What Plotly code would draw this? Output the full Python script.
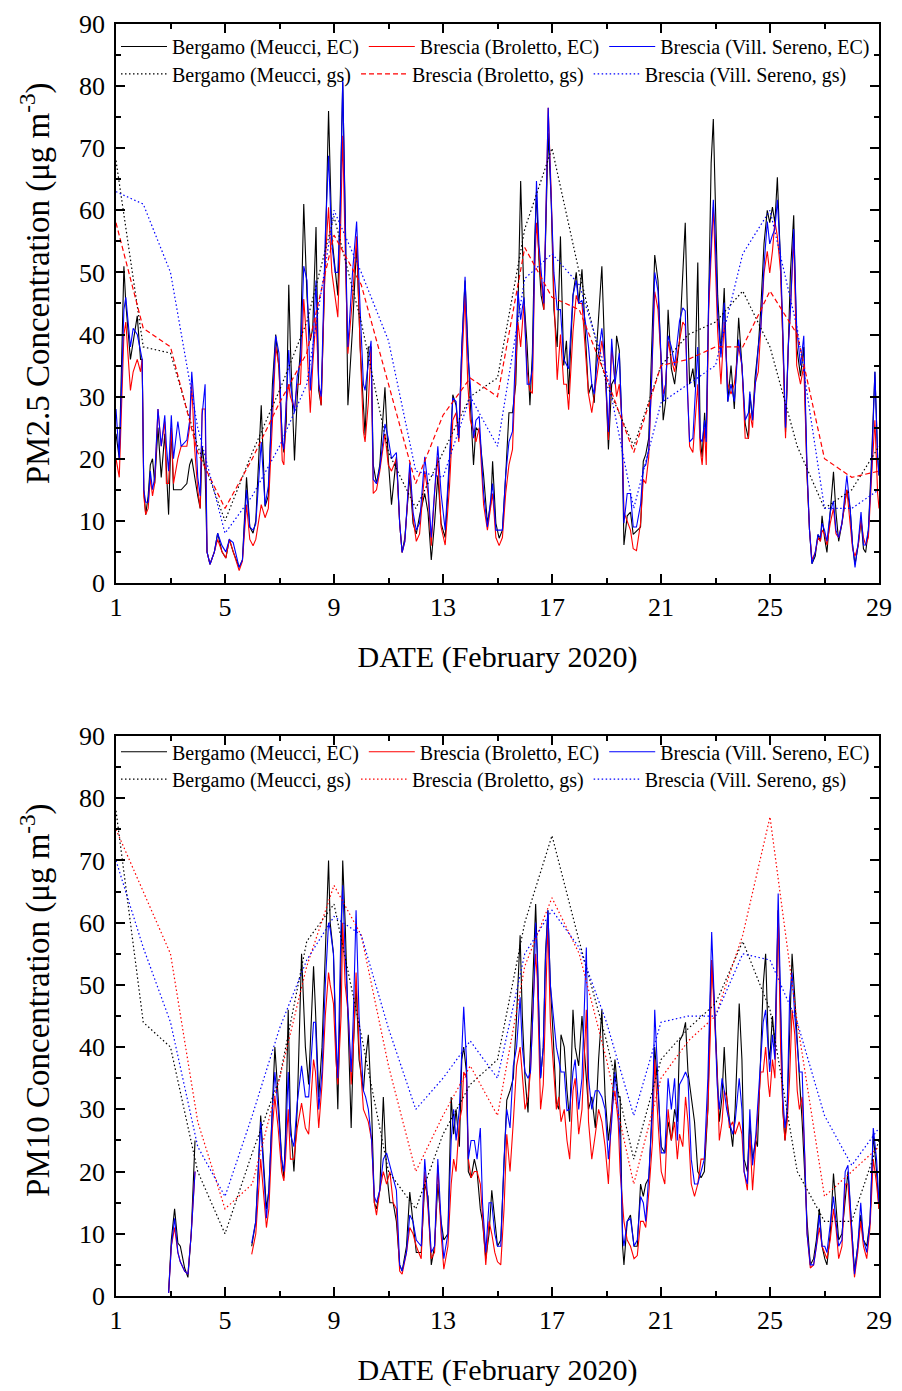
import plotly.graph_objects as go

# ---------------- PM2.5 (top) hourly-ish EC series ----------------
T25 = [1.00,1.12,1.29,1.36,1.53,1.63,1.78,1.90,1.96,2.02,2.09,2.18,2.26,2.34,2.42,2.54,2.66,2.79,2.85,2.93,
       3.03,3.11,3.27,3.39,3.60,3.70,3.78,3.88,4.00,4.09,4.16,4.27,4.34,4.45,4.61,4.73,4.89,5.03,5.16,5.30,
       5.52,5.64,5.79,5.91,6.03,6.13,6.33,6.47,6.59,6.74,6.86,6.98,7.10,7.16,7.25,7.34,7.40,7.55,7.65,7.77,
       7.89,8.01,8.13,8.22,8.34,8.44,8.53,8.68,8.80,8.92,9.04,9.14,9.23,9.32,9.43,9.51,9.68,9.83,9.96,10.08,
       10.14,10.26,10.36,10.44,10.56,10.68,10.87,10.99,11.11,11.29,11.41,11.50,11.60,11.78,11.90,12.02,12.14,12.33,12.45,12.57,
       12.69,12.81,12.93,13.08,13.24,13.36,13.48,13.58,13.69,13.81,13.91,14.00,14.12,14.21,14.33,14.49,14.63,14.76,14.82,14.94,
       15.06,15.18,15.30,15.42,15.55,15.67,15.75,15.85,15.97,16.09,16.19,16.28,16.36,16.43,16.52,16.60,16.70,16.76,16.86,16.97,
       17.07,17.19,17.31,17.43,17.53,17.61,17.77,17.89,17.98,18.10,18.26,18.34,18.46,18.55,18.64,18.83,18.95,19.07,19.19,19.31,
       19.37,19.47,19.56,19.64,19.76,19.88,19.98,20.10,20.25,20.35,20.44,20.55,20.65,20.77,20.89,21.01,21.08,21.17,21.26,21.38,
       21.50,21.68,21.80,21.89,21.96,22.05,22.17,22.24,22.35,22.44,22.51,22.60,22.66,22.75,22.84,22.92,22.99,23.08,23.20,23.32,
       23.45,23.57,23.69,23.85,23.97,24.09,24.21,24.26,24.36,24.45,24.57,24.66,24.78,24.90,24.99,25.09,25.18,25.27,25.39,25.47,
       25.57,25.67,25.75,25.87,25.98,26.12,26.24,26.36,26.45,26.54,26.66,26.76,26.85,26.91,27.00,27.09,27.21,27.33,27.42,27.52,
       27.64,27.82,27.94,28.03,28.12,28.24,28.34,28.43,28.51,28.61,28.73,28.85,28.95,29.00]
BERGAMO_EC_25 = [24,20,51,45,36,39,43,36,36,15,11,14,19,20,16,25,17,24,18,11,
       25,15,15,15,16,19,20,17,14,12,22,18,5,3,5,8,5,4,7,5,
       2.5,3.7,17,9,8,10,28.6,12.3,14,32,40,34.5,23.3,21,26,48,38,19.7,29.8,38,
       61,46,39,41,57.3,31,28.6,52.8,76,55.8,50,46.3,61.7,80.6,55,28.6,41,54.6,38,28.6,
       23.8,38,38,19,16,19,31.5,20,12.6,20.3,9.6,4.9,7.3,17.3,9.6,7.9,10.8,14.4,11.4,3.7,
       9.6,17.3,9.6,7.3,19,30.3,28.6,23.3,38,48.7,38,29.2,19,25,24.4,17.3,9.6,13,19.6,9.6,
       7.2,8.5,17.3,27.4,27.4,32,44,64.7,46,38,28.6,37,54.6,63,52,46.3,44,55.8,72.4,61.7,
       44,38,55.8,35,39,30.4,46.3,50,45,50.5,38,30.4,32,29,38,51,35,21.5,32,33,
       39.8,37.4,26,6.1,10.8,11.4,7.8,8.3,9,19.6,20.7,23.3,38,52.8,48.7,35.7,26.2,29.2,44,34.5,
       32,39,50,58,45,32,34.5,31.5,51.6,23.3,20.3,27.4,23.3,46.3,67.6,74.7,61.7,46.3,36.9,47.5,
       29.2,35,28,42.7,35,25.6,23.2,30.4,26.2,33,38,44,54.6,60,58,60.5,58,65.3,51,38,
       24.3,38,50,59.2,38,33.3,38,17.3,8.5,3.1,4.3,7.8,6.7,10.8,7.3,4.9,11.4,17.9,11.4,6.7,
       9.6,15,12,6.1,3,6.1,10.2,5.5,4.9,8.5,20.3,34,20.3,17.3]
BROLETTO_EC_25 = [20,17,40,42,31,34,36,34,36,14,11,12,17,14,16,28,22,26,16,16,
       25,16,20,22,22,25,32,22,15,12,28,28,5,3,5,7,5,4,7,5,
       2,3.5,12.6,7,6,7,12.6,10.5,12,26,38,35,19.7,19,29,32,30,28,32,32,
       45.7,38,27.4,35,42.8,32,28.6,52,60.5,50,46.3,42.8,55,72,50,36.9,46,55.8,38,24.4,
       22.7,29,38,14.4,15,18,24,19,18,20,9.6,4.9,6.7,18.5,10.5,6.7,7.9,18,14.4,6,
       14.4,20.3,9,6.1,15.6,26.2,27.4,22.7,35,46.3,32,26.2,24.4,22.7,25,12.6,8.5,12.6,14.4,7.3,
       6,7.3,14.4,19,21.5,35,42,38,45,34,31,30.5,50,58,52.8,48.7,44,55.8,76.5,62.9,
       46.3,32.7,40,32,32,27.9,40.4,46.3,45,45,35,30.4,27.4,30.4,32.7,39,35,23,38,32,
       30,32,27,11.4,10,8.5,5.5,5.2,9.6,16.7,16,20.3,32,46.9,44,34.5,30.4,32,39,36,
       34,39,42,41.4,32,22,21,26,32,21.5,19,25,19,44,52,60.5,52,40.4,32,42,
       32.1,30.4,32,38,35,23.3,23.3,27.4,25,32,34,41,49.9,53.4,49.9,53.4,58.2,55.8,50,39,
       23.3,38,44,55.8,35,32,35,17.3,8.5,3.7,4.9,7.3,6.7,8.5,7.9,6.1,9.6,12,7.9,7.3,
       9.6,15,10.2,5.5,4.3,6.1,10.2,7.3,6.1,7.3,17.3,26.2,14.4,12]
SERENO_EC_25 = [28,20,44,46,38,41,40,37,36,15,13,13,18,15,17,28,22,27,22,18,
       27,20,26,22,23,26,34,28,17,14,27,32,5,3,5,8,6,5,7,6.5,
       2.5,3.7,15,9,8.5,9.5,22.7,12.5,15.6,29,39.8,37,22.7,21.5,30.4,37.5,32,27.4,33.3,35.7,
       51,48.7,31,37,48.7,32,30,55.8,68.8,54.6,50,50,60,81.2,53,38,50,58.2,44,32,
       31,35,39,16.7,16,18.5,25.6,23.3,20,21,9.6,4.9,6.7,19.4,11.4,8.5,9.6,20.3,15.6,7.3,
       15.6,22,14.4,8.5,20.3,29.8,29.2,23.3,38,49.3,36.9,32.1,23.3,26.2,26.8,14.4,9,14.4,16,8.5,
       8.5,8.5,17.3,22.7,24.4,39,47,42.4,46,32,32,34.5,52.8,64.7,54.6,50,45,55.8,76.5,61.7,
       50,44,44,36,35,34.5,46.3,48.7,45,45.5,41,38,32,30.4,35,41,35,24.3,39.3,32,
       34,37,26,9.6,14.4,14.4,9,9,12.6,18.5,19,21.5,32,50,47,35,29.2,32,39.8,38,
       35,42.2,44.3,43.8,32,22.7,23.3,29,38,23.3,22.7,26.2,22.7,46.3,55.8,61.7,55.8,43.4,36.3,45.1,
       29.2,32,29.2,39.2,35,26.2,27.4,30.8,26.2,32,38,41,51,58.2,54.6,56,57,61.7,52,41,
       25,38,44,57,41,35,39.8,18.5,8.5,3.1,4.9,7.8,7.3,9.6,8.5,6.7,11.4,13.2,8.5,7.3,
       9.6,17.3,12,6.1,2.5,6.7,11.4,6.1,6.1,8.5,18.5,34,20.3,17.3]

# ---------------- daily gravimetric (gs) series ----------------
DAYS = list(range(1, 30))
BERGAMO_GS_25 = [68,38,37,22,10,21,31,42,59,42,21,12,21,30,33,57,70,50,32,22,35,40,42,47,38,22,12,15,22]
BROLETTO_GS_25 = [58,41,38,21,12,20,29,37,56,48,32,16,27,33,30,54,46,44,33,21,35,36,38,38,47,40,20,17,18]
SERENO_GS_25 = [63,61,50,25,8,14,22,32,60,50,39,18,17,30,22,49,53,48,34,12,29,32,35,53,60,41,12,12,15]

# ---------------- PM10 (bottom) EC series ----------------
T10 = [2.93,3.03,3.15,3.27,3.36,3.52,3.64,3.76,3.90,4.50,
       5.98,6.13,6.31,6.43,6.52,6.61,6.74,6.83,6.95,7.08,7.16,7.22,7.32,7.40,7.53,7.65,7.81,7.95,8.07,8.25,
       8.32,8.44,8.56,8.68,8.80,8.86,8.98,9.07,9.14,9.26,9.32,9.41,9.53,9.63,9.71,9.81,9.92,10.08,10.16,10.26,
       10.38,10.48,10.56,10.68,10.81,10.93,11.05,11.17,11.29,11.41,11.50,11.66,11.78,11.90,12.02,12.20,12.33,12.45,12.57,12.69,
       12.81,12.93,13.03,13.18,13.30,13.39,13.48,13.60,13.69,13.76,13.86,13.93,14.03,14.15,14.25,14.37,14.45,14.57,14.69,14.79,
       14.90,15.00,15.12,15.24,15.34,15.46,15.58,15.70,15.83,15.91,16.01,16.12,16.21,16.34,16.40,16.46,16.58,16.68,16.76,16.85,
       16.94,17.04,17.16,17.25,17.33,17.45,17.55,17.65,17.77,17.85,17.98,18.10,18.26,18.34,18.46,18.59,18.71,18.83,18.95,19.07,
       19.19,19.31,19.43,19.50,19.59,19.64,19.76,19.88,20.01,20.13,20.25,20.35,20.44,20.56,20.69,20.77,20.89,21.01,21.14,21.26,
       21.38,21.50,21.60,21.68,21.80,21.90,21.99,22.11,22.23,22.35,22.47,22.59,22.72,22.81,22.86,22.96,23.06,23.14,23.24,23.32,
       23.41,23.51,23.63,23.72,23.87,23.97,24.05,24.17,24.26,24.36,24.48,24.54,24.66,24.75,24.84,24.94,24.99,25.09,25.18,25.30,
       25.39,25.47,25.55,25.63,25.72,25.81,25.91,26.00,26.08,26.18,26.28,26.36,26.48,26.60,26.70,26.81,26.91,27.01,27.09,27.21,
       27.33,27.42,27.52,27.64,27.76,27.86,27.98,28.10,28.22,28.33,28.43,28.55,28.67,28.79,28.91,29.00]
BERGAMO_EC_10 = [0.5,9,14,8.5,8,4.5,3,10,25,None,
       8,12,29,20,14,17,32,40,32,22,19,26,46,28,20,30,55,40,34,53,
       46,32,40,55,70,60,55,40,30,55,70,60,40,27,40,50,38,33,38,42,
       30,15,14,17,32,20,15,15,12,5,4,8,16.7,12,7,7,18,16,5,8,
       18,12,9,10,32,26,30,24,38,40,36,20,19,22,20,14,12,6,10,17,
       12,8,9,20,31.5,33,35,45,58,45,35,29.5,40,56,63,55,35,40,55,62,
       50,42,31,30,42,40,33,28,46,40,37,45,34,30,32,27,38,46,32,25,
       30,38,32,32,8,5,12,13,8,8,18,16,18,19,32,40,33,24,23,28,
       25,30,28,41,42,44,36,32,28,20,19,20,30,48,54,47,35,28,32,40,
       32,28,24,30,47,38,22,20,28,22,25,24,38,50,55,40,38,45,40,62,
       45,30,25,30,42,55,48,40,35,28,20,12,5,6,9,14,8,6,5,10,
       19.7,15,9,10,16,20,12,4,8,13,9,8,12,26,20,14]
BROLETTO_EC_10 = [0.5,8,11,7,5.5,4,3.5,10,20,None,
       6.7,10,22,15,11,14,27,32,27,20,18.5,22,30,22,22,27,31,27,26,38,
       36,27,34,45,52,50,47,38,34,45,60,50,45,34,40,52,40,30,29,28,
       25,15,13,17,20,18,20,15,14,4,3.5,7,11,10,8,6,20,14,6,7,
       21,10,4.3,8,18,22,20,28,30,36,35,22,19,20,20,18,13,5,12,10,
       7,5.5,5,14,26,20,28,37,40,35,30,32,36,50,55,51,30,34,48,60,
       44,38,30,32,28,30,25,22,33,35,26,30,46,28,22,26,30,28,24,18,
       30,33,28,20,15,12,9,8,6,6.5,12,12,11,17,25,38,28,20,18,30,
       25,28,22,26,24,32,28,18,16,18,22,22,30,42,54,45,36,25,28,33,
       32,27,28,26,28,26,20,17,26,17,24,28,36,36,40,34,32,38,35,62,
       40,30,25,28,35,46,42,33,30,32,22,10,4.5,5,8,11,8,7,6,9,
       14,11,6,8,18,18,10,3,7,12,8,6,11,22,18,14]
SERENO_EC_10 = [0.5,8,12.5,7,5.5,4,3.5,10,20,None,
       8.5,12,28,18,12.5,17,30,36,30,22,20,24,36,26,24,31,37,32,32,44,
       44,30,36,50,60,59,55,42,35,60,66,55,44,36,45,62,45,33,32,30,
       25,16,15,17,22,23,21,19,17,5,4,7,13,12,9,8,22,15,7,8,
       22,12,6,10,25,30,25,30,38,46.5,38,22,25,25,22,27,15,7,15,15,
       10,8,8,22,30,27,37,40,48,40,36,35,36,50,60,55,35,40,54,62,
       50,45,40,38,36,36,29.8,30,36,38,30,35,56,35,30,33,33,32,30,22,
       28,36,30,25,10,8,12,12.5,8,9,16,15,12,20,30,46,34,23,23,35,
       30,35,25,34,35,36,35,22,18,18,20,22,35,50,58.5,47,34,30,35,33,
       30,28,26,28,35,30,20,18,30,21,26,30,38,44,46,38,36,42,38,64.7,
       46,32,27,30,48,52,45,40,36,36,20,10,5,5,8,13,8,8,7,12,
       16,12,8,9,20,21,12,3.5,8,15,9,7,12,27,22,15]

BERGAMO_GS_10 = [78,44,40,20,10,23,35,57,63,42,20,14,26,34,38,60,74,57,41,22,38,43,47,57,46,20,12,12,25]
BROLETTO_GS_10 = [75,65,55,28,14,18,35,53,66,58,37,20,29,37,29,53,64,55,38,18,35,41,45,58,77,44,16,20,24]
SERENO_GS_10 = [70,56,44,24,16,29,43,54,61,58,43,30,35,41,35,55,62,56,44,29,44,45,45,55,54,44,29,21,27]

NAMES_EC = ["Bergamo (Meucci, EC)", "Brescia (Broletto, EC)", "Brescia (Vill. Sereno, EC)"]
NAMES_GS = ["Bergamo (Meucci, gs)", "Brescia (Broletto, gs)", "Brescia (Vill. Sereno, gs)"]
COLORS = ["#000000", "#ff0000", "#0000ff"]
Y_TITLES = ["PM2.5 Concentration (\u03bcg m<sup>-3</sup>)", "PM10 Concentration (\u03bcg m<sup>-3</sup>)"]
X_TITLE = "DATE (February 2020)"
FONT = "Liberation Serif, Times New Roman, serif"

fig = go.Figure()

def add_panel(t, ec, gs, xa, ya, leg_ec, leg_gs, gs_dashes):
    for name, vals, col in zip(NAMES_EC, ec, COLORS):
        fig.add_trace(go.Scatter(x=t, y=vals, mode="lines", name=name, xaxis=xa, yaxis=ya,
                                 legend=leg_ec, line=dict(color=col, width=1.1), connectgaps=False))
    for name, vals, col, dsh in zip(NAMES_GS, gs, COLORS, gs_dashes):
        fig.add_trace(go.Scatter(x=DAYS, y=vals, mode="lines", name=name, xaxis=xa, yaxis=ya,
                                 legend=leg_gs, line=dict(color=col, width=1.2, dash=dsh)))

DOT = "1.5px,2.5px"
add_panel(T25, [BERGAMO_EC_25, BROLETTO_EC_25, SERENO_EC_25],
          [BERGAMO_GS_25, BROLETTO_GS_25, SERENO_GS_25], "x", "y", "legend", "legend2",
          [DOT, "5px,3px", DOT])
add_panel(T10, [BERGAMO_EC_10, BROLETTO_EC_10, SERENO_EC_10],
          [BERGAMO_GS_10, BROLETTO_GS_10, SERENO_GS_10], "x2", "y2", "legend3", "legend4",
          [DOT, DOT, DOT])

xax = dict(range=[1, 29], tickmode="linear", tick0=1, dtick=4, ticks="inside", ticklen=9,
           tickwidth=1.5, tickcolor="black", showline=True, linecolor="black", linewidth=1.5,
           mirror="allticks", showgrid=False, zeroline=False,
           minor=dict(dtick=2, tick0=1, ticks="inside", ticklen=5, tickwidth=1.5, tickcolor="black"),
           tickfont=dict(family=FONT, size=26, color="black"),
           title=dict(text=X_TITLE, font=dict(family=FONT, size=30, color="black"), standoff=25))
yax = dict(range=[0, 90], tickmode="linear", tick0=0, dtick=10, ticks="inside", ticklen=9,
           tickwidth=1.5, tickcolor="black", showline=True, linecolor="black", linewidth=1.5,
           mirror="allticks", showgrid=False, zeroline=False,
           minor=dict(dtick=5, ticks="inside", ticklen=5, tickwidth=1.5, tickcolor="black"),
           tickfont=dict(family=FONT, size=26, color="black"), ticklabelstandoff=4)

legend_common = dict(orientation="h", itemwidth=46,
                     bgcolor="rgba(0,0,0,0)", font=dict(family=FONT, size=20, color="black"),
                     xanchor="left", yanchor="top", x=0.0, tracegroupgap=0, traceorder="normal")

ytitle_ann = [
    dict(text=Y_TITLES[0], x=-0.1055, y=0.7958),
    dict(text=Y_TITLES[1], x=-0.1055, y=0.2324),
]
annotations = [dict(a, xref="paper", yref="paper", xanchor="center", yanchor="middle",
                    textangle=-90, showarrow=False,
                    font=dict(family=FONT, size=33, color="black")) for a in ytitle_ann]

fig.update_layout(
    width=902, height=1391, autosize=False,
    margin=dict(l=116, r=18, t=10, b=86),
    paper_bgcolor="white", plot_bgcolor="white",
    xaxis=dict(xax, domain=[0, 1], anchor="y"),
    yaxis=dict(yax, domain=[0.5606, 1], anchor="x"),
    xaxis2=dict(xax, domain=[0, 1], anchor="y2"),
    yaxis2=dict(yax, domain=[0, 0.4402], anchor="x2"),
    legend=dict(legend_common, y=0.9977),
    legend2=dict(legend_common, y=0.9761),
    legend3=dict(legend_common, y=0.4432),
    legend4=dict(legend_common, y=0.4216),
    annotations=annotations,
    showlegend=True,
)

fig.write_html("out.html")
